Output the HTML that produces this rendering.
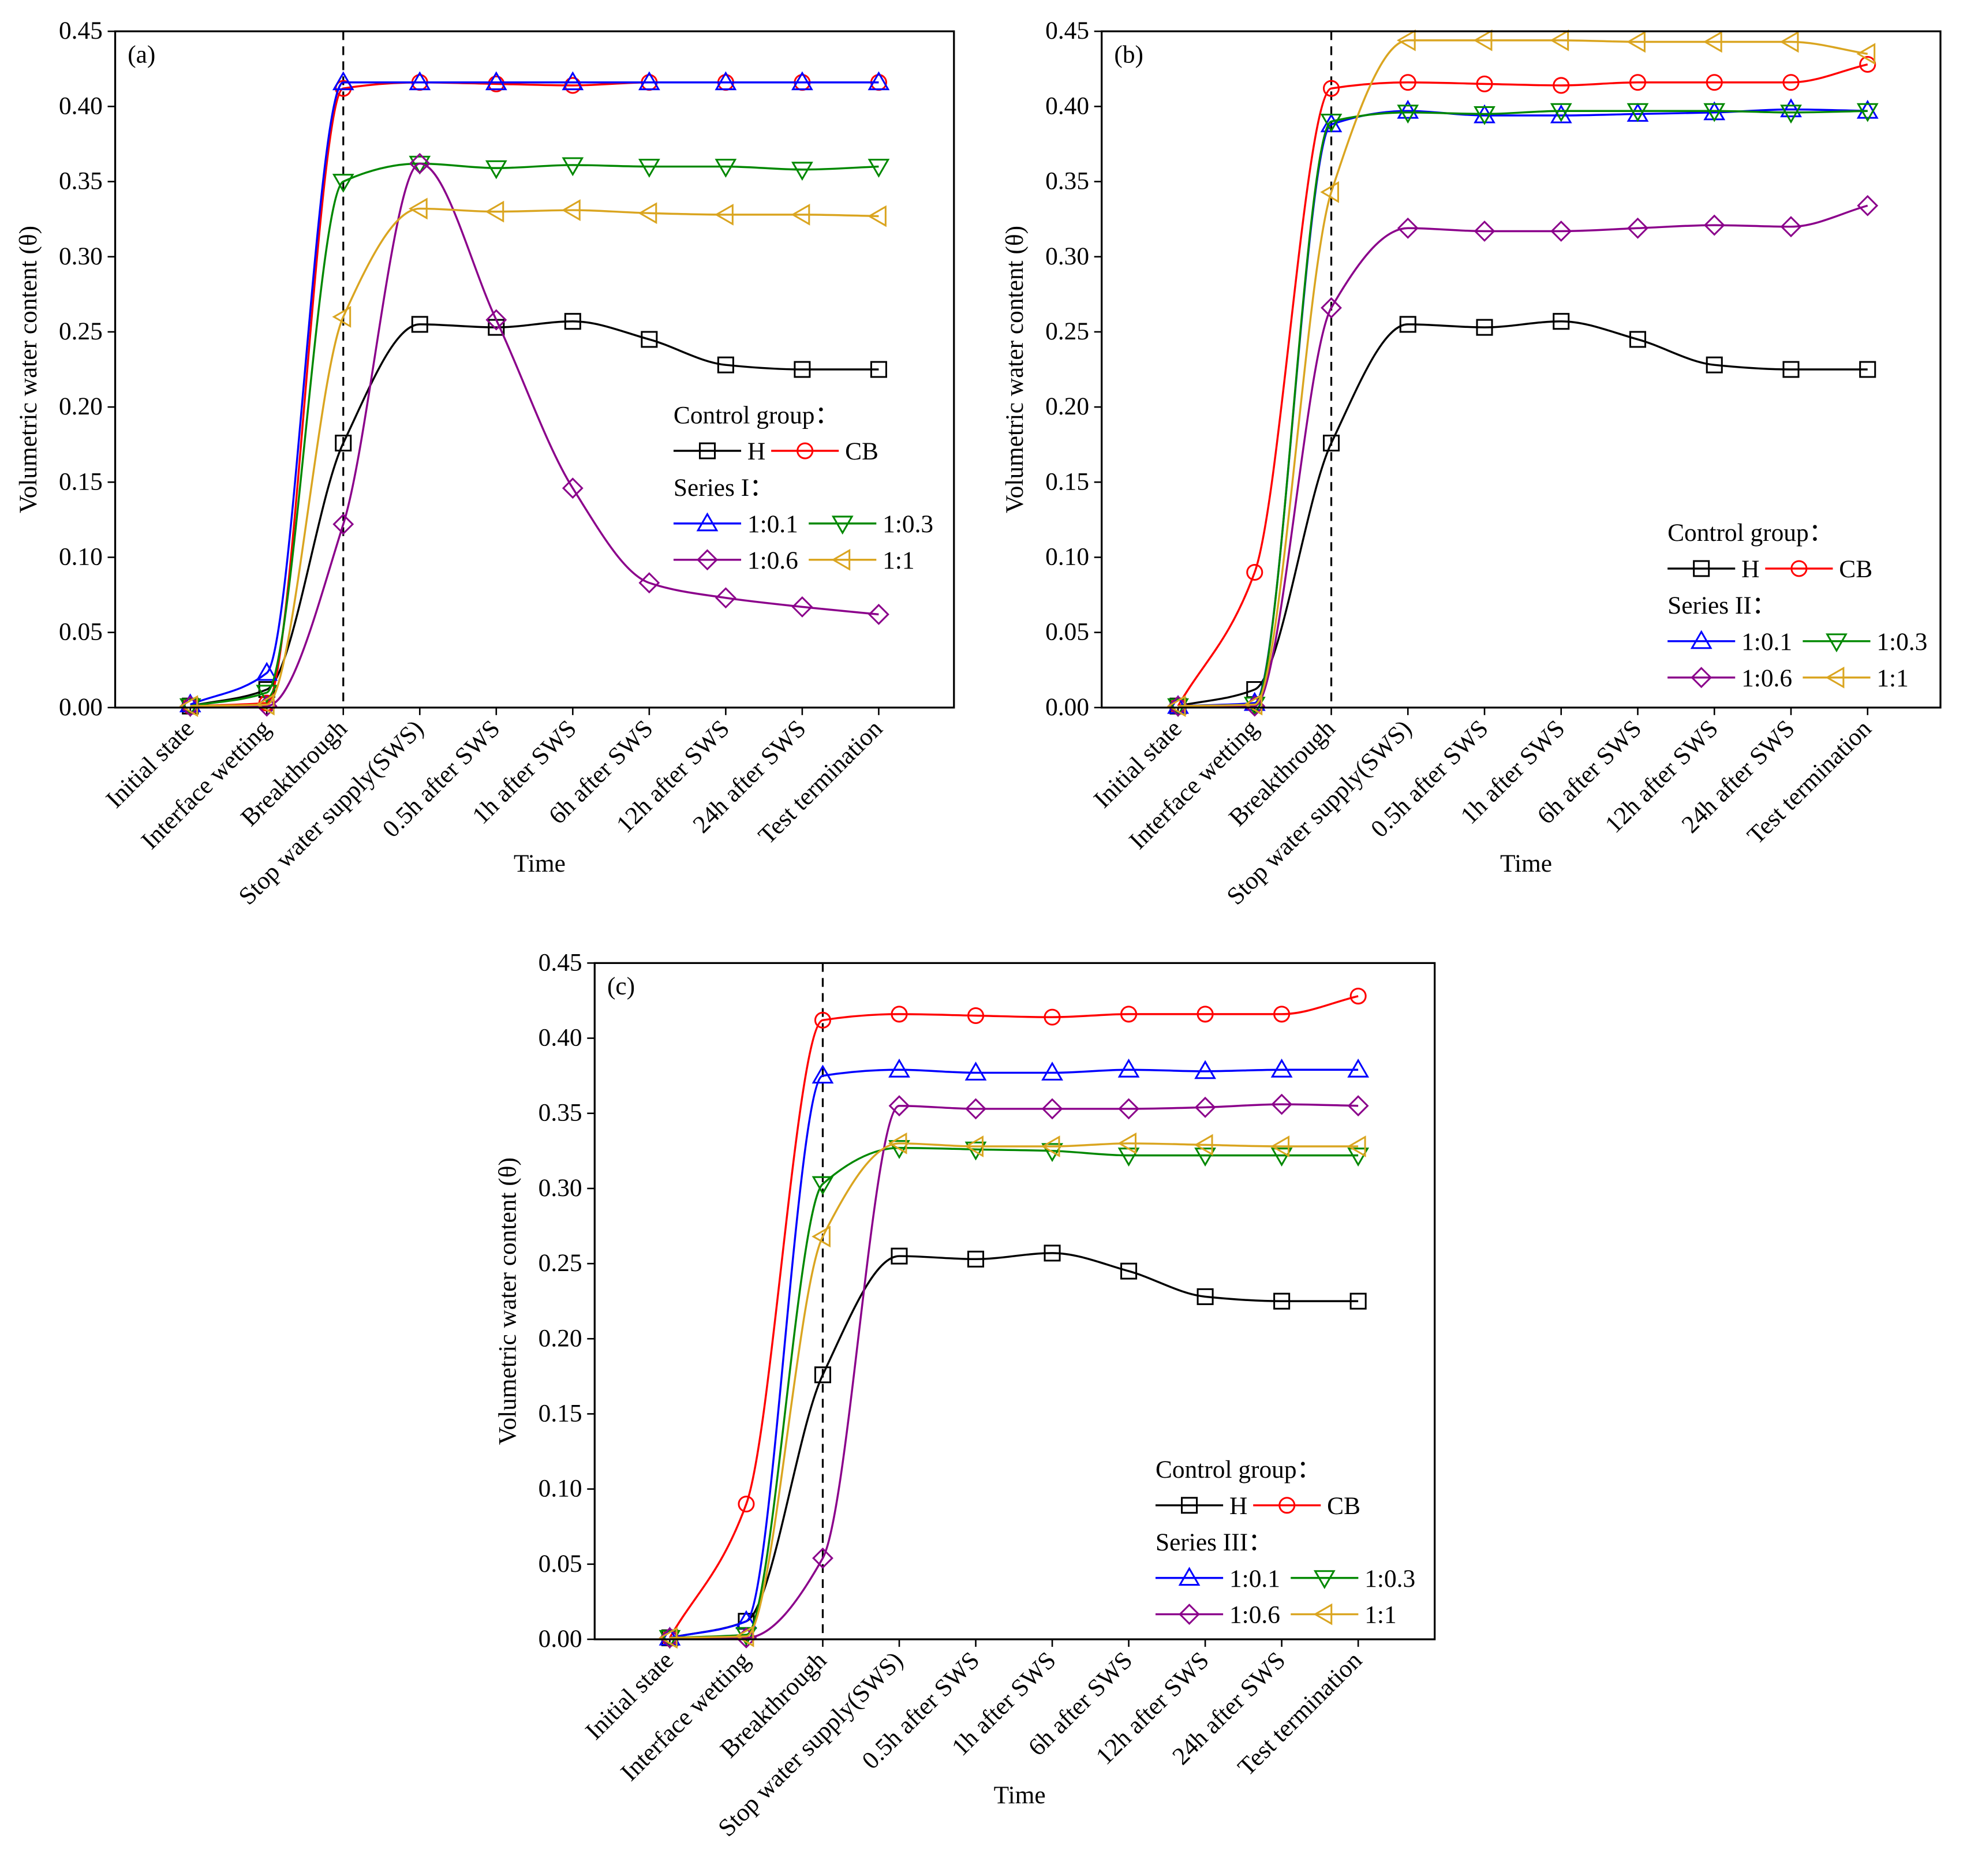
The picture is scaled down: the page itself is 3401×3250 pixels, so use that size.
<!DOCTYPE html>
<html><head><meta charset="utf-8"><style>
html,body{margin:0;padding:0;background:#fff}
svg{display:block;font-family:"Liberation Serif",serif}
</style></head><body>
<svg id="fig" width="3401" height="3250" viewBox="0 0 1568 1498" preserveAspectRatio="none" xmlns="http://www.w3.org/2000/svg"></svg>
<script>
const categories=["Initial state","Interface wetting","Breakthrough","Stop water supply(SWS)","0.5h after SWS","1h after SWS","6h after SWS","12h after SWS","24h after SWS","Test termination"];
const yTicks=[0,0.05,0.10,0.15,0.20,0.25,0.30,0.35,0.40,0.45];
const yTickLabels=["0.00","0.05","0.10","0.15","0.20","0.25","0.30","0.35","0.40","0.45"];
const seriesNames=["H","CB","1:0.1","1:0.3","1:0.6","1:1"];
const hData=[0.001,0.012,0.176,0.255,0.253,0.257,0.245,0.228,0.225,0.225];
const cbA=[0.001,0.003,0.412,0.416,0.415,0.414,0.416,0.416,0.416,0.416];
const cbB=[0.001,0.090,0.412,0.416,0.415,0.414,0.416,0.416,0.416,0.428];
const a01=[0.002,0.023,0.416,0.416,0.416,0.416,0.416,0.416,0.416,0.416];
const a03=[0.001,0.010,0.350,0.362,0.359,0.361,0.360,0.360,0.358,0.360];
const a06=[0.001,0.001,0.122,0.362,0.258,0.146,0.083,0.073,0.067,0.062];
const a11=[0.001,0.002,0.260,0.332,0.330,0.331,0.329,0.328,0.328,0.327];
const b01=[0.001,0.003,0.388,0.397,0.394,0.394,0.395,0.396,0.398,0.397];
const b03=[0.001,0.002,0.390,0.396,0.395,0.397,0.397,0.397,0.396,0.397];
const b06=[0.001,0.001,0.266,0.319,0.317,0.317,0.319,0.321,0.320,0.334];
const b11=[0.001,0.002,0.343,0.444,0.444,0.444,0.443,0.443,0.443,0.435];
const c01=[0.001,0.012,0.375,0.379,0.377,0.377,0.379,0.378,0.379,0.379];
const c03=[0.001,0.003,0.303,0.327,0.326,0.325,0.322,0.322,0.322,0.322];
const c06=[0.001,0.001,0.054,0.355,0.353,0.353,0.353,0.354,0.356,0.355];
const c11=[0.001,0.002,0.268,0.330,0.328,0.328,0.330,0.329,0.328,0.328];

const NS="http://www.w3.org/2000/svg";
const svg=document.getElementById('fig');
const colors=["#000","#f00","#00f","#080","#8b008b","#daa520"];
const markers=["square","circle","up","down","diamond","left"];
function mk(tag,attrs,parent){const e=document.createElementNS(NS,tag);for(const k in attrs)e.setAttribute(k,attrs[k]);(parent||svg).appendChild(e);return e;}
function marker(g,type,x,y,c){
  const s=6.5;let e;
  if(type==="square")e=mk('rect',{x:x-s+0.5,y:y-s+0.5,width:2*s-1,height:2*s-1},g);
  else if(type==="circle")e=mk('circle',{cx:x,cy:y,r:s-0.5},g);
  else{let p;
    if(type==="up")p=[[x,y-s-1],[x+s+1,y+s-1],[x-s-1,y+s-1]];
    if(type==="down")p=[[x,y+s+1],[x+s+1,y-s+1],[x-s-1,y-s+1]];
    if(type==="left")p=[[x-s-1,y],[x+s-1,y-s-1],[x+s-1,y+s+1]];
    if(type==="diamond")p=[[x,y-s-1],[x+s+1,y],[x,y+s+1],[x-s-1,y]];
    e=mk('polygon',{points:p.map(q=>q.join(',')).join(' ')},g);}
  e.setAttribute('fill','none');e.setAttribute('stroke',c);e.setAttribute('stroke-width','1.4');
  return e;
}
function spline(pts){
  const n=pts.length,h=pts[1][0]-pts[0][0];
  const d=[];for(let i=0;i<n-1;i++)d.push((pts[i+1][1]-pts[i][1])/h);
  const m=new Array(n);
  m[0]=d[0];m[n-1]=d[n-2];
  for(let i=1;i<n-1;i++){ if(d[i-1]*d[i]<=0)m[i]=0; else m[i]=2/(1/d[i-1]+1/d[i]); }
  let s=`M${pts[0][0]},${pts[0][1]}`;
  for(let i=0;i<n-1;i++){
    const p1=pts[i],p2=pts[i+1];
    s+=` C${p1[0]+h/3},${p1[1]+m[i]*h/3} ${p2[0]-h/3},${p2[1]-m[i+1]*h/3} ${p2[0]},${p2[1]}`;
  }return s;
}
let clipId=0;
function panel(name,L,T,W,H,x0,dx,series,label,legX,legY,serLabel){
  const g=mk('g',{});
  
  const sx=i=>x0+i*dx, sy=v=>T+H-v/0.45*H;
  const cid='clip'+(clipId++);
  const cp=mk('clipPath',{id:cid},g);mk('rect',{x:L,y:T,width:W,height:H},cp);
  yTicks.forEach((v,i)=>{
    mk('line',{x1:L-6,x2:L,y1:sy(v),y2:sy(v),stroke:'#000','stroke-width':1.2},g);
    const t=mk('text',{x:L-10,y:sy(v)+6,'text-anchor':'end','font-size':20},g);t.textContent=yTickLabels[i];
    
  });
  categories.forEach((c,i)=>{
    mk('line',{x1:sx(i),x2:sx(i),y1:T+H,y2:T+H+6,stroke:'#000','stroke-width':1.2},g);
    const t=mk('text',{x:sx(i)+4,y:T+H+18,'text-anchor':'end','font-size':20,transform:`rotate(-45 ${sx(i)+4} ${T+H+18})`},g);
    t.textContent=c;
    
  });
  const yt=mk('text',{x:0,y:0,'text-anchor':'middle','font-size':20,transform:`translate(${L-63},${T+H/2}) rotate(-90)`},g);
  yt.textContent="Volumetric water content (θ)";
  
  const xt=mk('text',{x:L+W/2+4,y:T+H+131,'text-anchor':'middle','font-size':20},g);
  xt.textContent="Time";
  
  const pl=mk('text',{x:L+10,y:T+25,'font-size':20},g);pl.textContent=label;
  
  const dl=mk('line',{x1:sx(2),x2:sx(2),y1:T,y2:T+H,stroke:'#000','stroke-width':1.5,'stroke-dasharray':'7,5'},g);
  
  series.forEach((vals,k)=>{
    const pts=vals.map((v,i)=>[sx(i),sy(v)]);
    const p=mk('path',{d:spline(pts),fill:'none',stroke:colors[k],'stroke-width':1.6,'clip-path':`url(#${cid})`},g);
    
    pts.forEach(q=>{const m=marker(g,markers[k],q[0],q[1],colors[k]);
      });
  });
  mk('rect',{x:L,y:T,width:W,height:H,fill:'none',stroke:'#000','stroke-width':1.5},g);
  const lg=mk('g',{},g);
  
  const txt=(x,y,s)=>{const t=mk('text',{x:x,y:y,'font-size':20},lg);t.textContent=s;return t;};
  txt(legX,legY+14,"Control group：");
  const entry=(x,y,k,len)=>{mk('line',{x1:x,x2:x+len,y1:y,y2:y,stroke:colors[k],'stroke-width':1.6},lg);
    const m=marker(lg,markers[k],x+len/2,y,colors[k]);
    txt(x+len+5,y+7,seriesNames[k]);};
  entry(legX,legY+36,0,54);entry(legX+78,legY+36,1,54);
  txt(legX,legY+72,serLabel);
  entry(legX,legY+94,2,54);entry(legX+108,legY+94,3,54);
  entry(legX,legY+123,4,54);entry(legX+108,legY+123,5,54);
}
panel('a',92,25,670,540,152,61.1,[hData,cbA,a01,a03,a06,a11],'(a)',538,324,'Series I：');
panel('b',880,25,670,540,941,61.2,[hData,cbB,b01,b03,b06,b11],'(b)',1332,418,'Series II：');
panel('c',475,769,671,540,535,61.1,[hData,cbB,c01,c03,c06,c11],'(c)',923,1166,'Series III：');
</script>
</body></html>
